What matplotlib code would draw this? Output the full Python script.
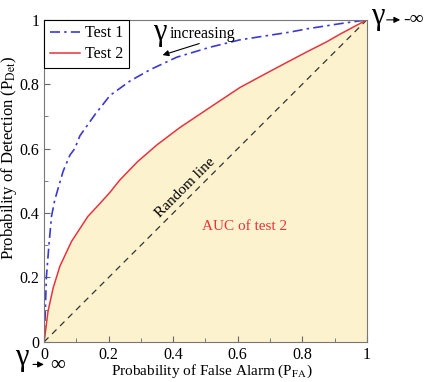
import matplotlib
matplotlib.use("Agg")
import matplotlib.pyplot as plt
import numpy as np

plt.rcParams['font.family'] = ['Liberation Serif', 'DejaVu Serif']
plt.rcParams['mathtext.fontset'] = 'stix'

# ROC curves
pfa_test1 = [0, 0.002, 0.004, 0.007, 0.015, 0.023, 0.033, 0.043, 0.059, 0.08, 0.095,
             0.111, 0.157, 0.204, 0.266, 0.328, 0.411, 0.514, 0.607, 0.762, 0.814,
             0.916, 1.0]
pd_test1 = [0, 0.05, 0.1, 0.2, 0.3, 0.39, 0.44, 0.475, 0.53, 0.58, 0.6,
            0.64, 0.705, 0.765, 0.81, 0.845, 0.884, 0.915, 0.938, 0.962, 0.972,
            0.988, 1.0]
pfa_test2 = [0, 0.004, 0.012, 0.028, 0.049, 0.085, 0.136, 0.164, 0.203, 0.235, 0.29,
             0.35, 0.42, 0.505, 0.607, 0.709, 0.813, 0.876, 0.916, 1.0]
pd_test2 = [0, 0.03, 0.094, 0.167, 0.235, 0.312, 0.39, 0.42, 0.463, 0.503, 0.56,
            0.612, 0.665, 0.722, 0.79, 0.845, 0.9, 0.932, 0.955, 1.0]
random_line = [0, 1]

ticks = [0, 0.2, 0.4, 0.6, 0.8, 1]
tick_labels = ['0', '0.2', '0.4', '0.6', '0.8', '1']

fig = plt.figure(figsize=(4.28, 3.82), dpi=100)
ax = fig.add_axes([0.103, 0.105, 0.754, 0.843])

ax.fill_between(pfa_test2, pd_test2, 0, color='#fdf2ce', lw=0, zorder=0)
ax.plot(random_line, random_line, color='#333333', lw=0.9, dashes=(5, 4))
ax.plot(pfa_test1, pd_test1, color='#3a3ad0', lw=1.2, dashes=(6, 2.5, 1.5, 2.5), label='Test 1')
ax.plot(pfa_test2, pd_test2, color='#e8333a', lw=1.1, label='Test 2')

ax.set_xlim(0, 1)
ax.set_ylim(0, 1)
ax.set_xticks(ticks)
ax.set_xticklabels(tick_labels)
ax.set_yticks(ticks)
ax.set_yticklabels(tick_labels)
ax.set_xticks(np.arange(0.1, 1, 0.2), minor=True)
ax.set_yticks(np.arange(0.1, 1, 0.2), minor=True)
ax.tick_params(which='both', direction='in', colors='#666666', labelcolor='black',
               labelsize=11.5)
ax.tick_params(which='major', length=4)
ax.tick_params(which='minor', length=3)
for s in ax.spines.values():
    s.set_color('#777777')

ax.set_xlabel('Probability of False Alarm (P$_{\\mathrm{FA}}$)', fontsize=11)
ax.set_ylabel('Probability of Detection (P$_{\\mathrm{Det}}$)', fontsize=12)
ax.xaxis.set_label_coords(0.52, -0.066)
ax.yaxis.set_label_coords(-0.078, 0.571)

leg = ax.legend(loc='upper left', fontsize=11.5, fancybox=False, framealpha=1,
                edgecolor='black', borderpad=0.35, labelspacing=0.3, handlelength=1.9,
                handletextpad=0.3, borderaxespad=0)
leg.get_frame().set_linewidth(0.8)

ax.text(0.437, 0.478, 'Random line', rotation=45, ha='center', va='center', fontsize=11)
ax.text(0.622, 0.357, 'AUC of test 2', color='#e8333a', ha='center', va='center', fontsize=11)

# gamma annotations
ax.text(0.36, 0.962, 'γ', fontsize=22, ha='center', va='center')
ax.text(0.39, 0.955, 'increasing', fontsize=11.5, ha='left', va='center')
ax.annotate('', xy=(0.359, 0.888), xytext=(0.489, 0.929),
            arrowprops=dict(arrowstyle='-|>', color='black', lw=0.8, mutation_scale=9))

ax.text(1.034, 1.01, 'γ', fontsize=22, ha='center', va='center', clip_on=False)
ax.annotate('', xy=(1.112, 1.0), xytext=(1.053, 1.0), annotation_clip=False,
            arrowprops=dict(arrowstyle='-|>', color='black', lw=0.8, mutation_scale=9))
ax.text(1.112, 1.0, '-∞', fontsize=14, ha='left', va='center', clip_on=False)

ax.text(-0.07, -0.05, 'γ', fontsize=22, ha='center', va='center', clip_on=False)
ax.annotate('', xy=(0.008, -0.07), xytext=(-0.043, -0.07), annotation_clip=False,
            arrowprops=dict(arrowstyle='-|>', color='black', lw=0.8, mutation_scale=9))
ax.text(0.018, -0.072, '∞', fontsize=15, ha='left', va='center', clip_on=False)

fig.savefig('out.png', dpi=100)
